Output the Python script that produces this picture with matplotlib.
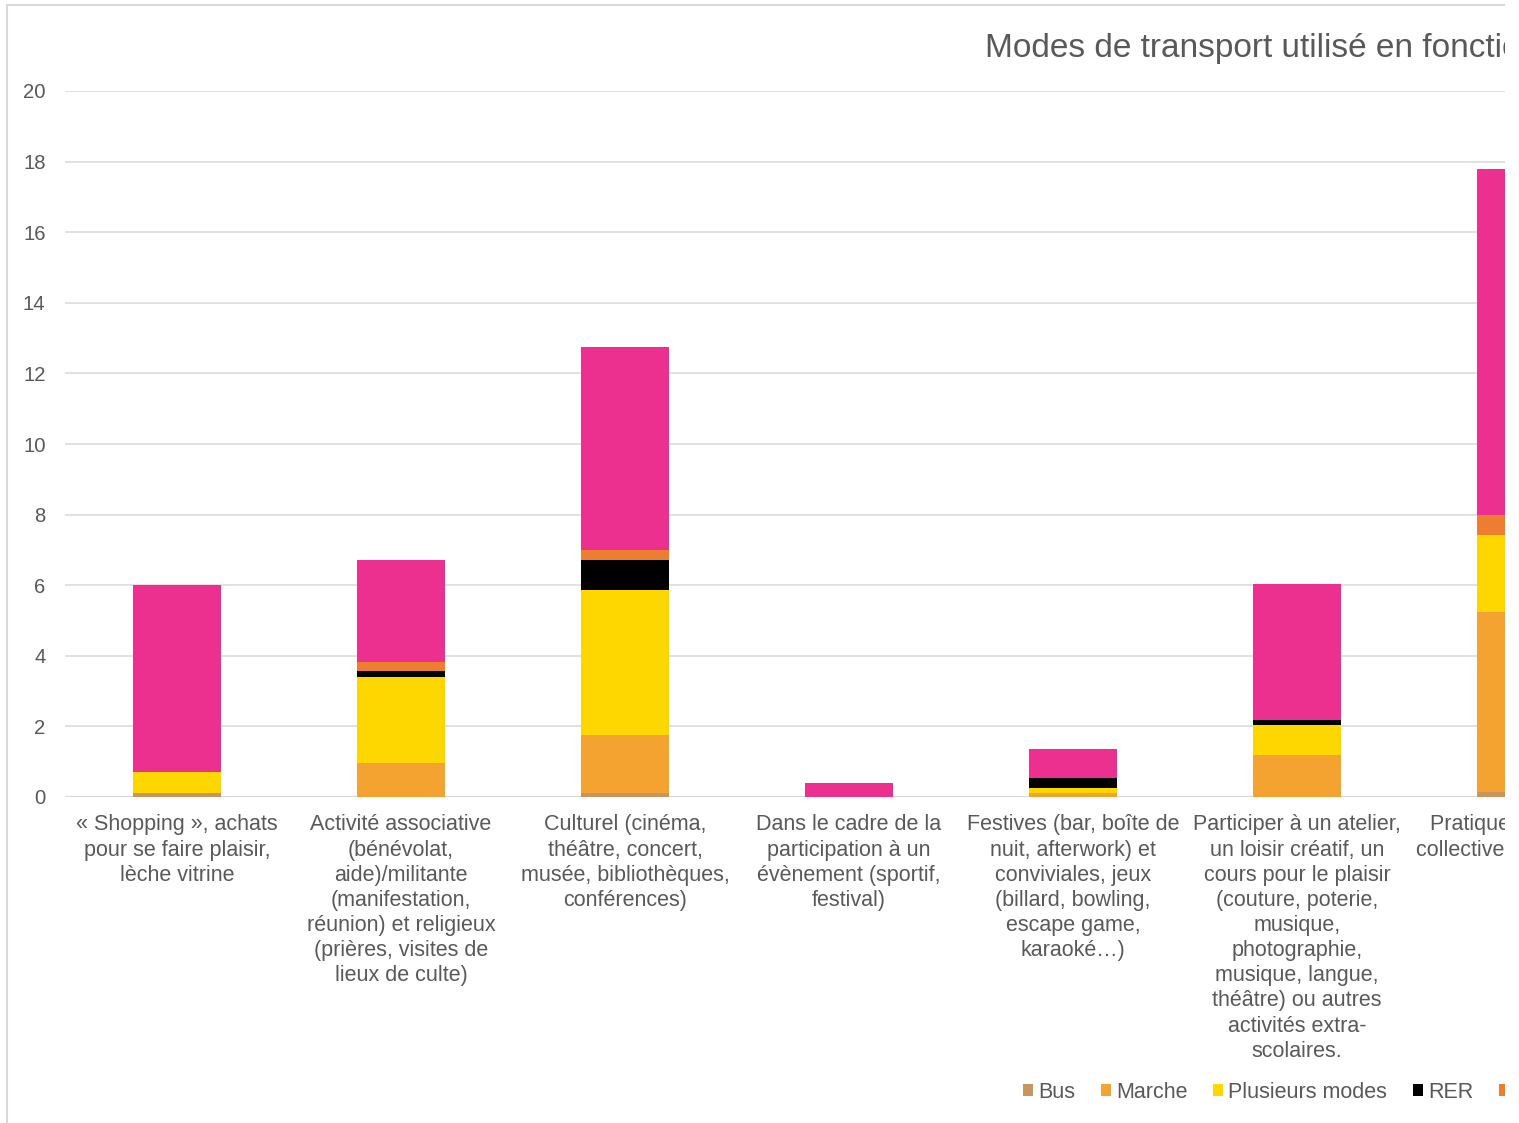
import numpy as np
import matplotlib
matplotlib.use("Agg")
import matplotlib.pyplot as plt
from matplotlib.lines import Line2D
from matplotlib.patches import Rectangle

plt.rcParams["font.family"] = ["Liberation Sans", "DejaVu Sans"]

# Data (right part of the chart is cut off)
categories = [
    "« Shopping », achats\npour se faire plaisir,\nlèche vitrine",
    "Activité associative\n(bénévolat,\naide)/militante\n(manifestation,\nréunion) et religieux\n(prières, visites de\nlieux de culte)",
    "Culturel (cinéma,\nthéâtre, concert,\nmusée, bibliothèques,\nconférences)",
    "Dans le cadre de la\nparticipation à un\névènement (sportif,\nfestival)",
    "Festives (bar, boîte de\nnuit, afterwork) et\nconviviales, jeux\n(billard, bowling,\nescape game,\nkaraoké…)",
    "Participer à un atelier,\nun loisir créatif, un\ncours pour le plaisir\n(couture, poterie,\nmusique,\nphotographie,\nmusique, langue,\nthéâtre) ou autres\nactivités extra-\nscolaires.",
    "Pratiques sportives\ncollectives (football…)",
]
series_names = ["Bus", "Marche", "Plusieurs modes", "RER", "Vélo", "Voiture"]
bus = [0.10, 0.00, 0.12, 0.00, 0.00, 0.00, 0.13]
marche = [0.00, 0.95, 1.65, 0.00, 0.10, 1.20, 5.10]
plusieurs = [0.60, 2.45, 4.10, 0.00, 0.15, 0.83, 2.20]
rer = [0.00, 0.17, 0.84, 0.00, 0.29, 0.15, 0.00]
velo = [0.00, 0.25, 0.28, 0.00, 0.00, 0.00, 0.55]
voiture = [5.30, 2.90, 5.77, 0.40, 0.81, 3.85, 9.80]
colors = ["#C9955F", "#F4A331", "#FFD700", "#000000", "#ED7D31", "#EC3090"]

W, H = 1519, 1123
fig = plt.figure(figsize=(W / 100, H / 100), dpi=100)

# the plot area runs past the right edge of the picture
n_slots = 12
slot_px = 224
ax = fig.add_axes([65 / W, 1 - 797 / H, slot_px * n_slots / W, (797 - 91) / H])

x = np.arange(len(categories))
bottom = np.zeros(len(categories))
handles = []
for name, vals, col in zip(series_names, [bus, marche, plusieurs, rer, velo, voiture], colors):
    vals = np.array(vals)
    b = ax.bar(x, vals, 0.39, bottom=bottom, color=col, label=name, zorder=3)
    handles.append(b)
    bottom += vals

ax.set_xlim(-0.5, n_slots - 0.5)
ax.set_ylim(0, 20)
ax.set_yticks(range(0, 21, 2))
ax.set_xticks(x)
ax.set_xticklabels(categories, fontsize=15.5, color="#595959", linespacing=1.26, va="top")
ax.tick_params(axis="x", length=0, pad=12.5)
ax.tick_params(axis="y", length=0, pad=14, labelsize=14.6, labelcolor="#595959")
ax.grid(axis="y", color="#D9D9D9", linewidth=1.1, zorder=0)
for s in ax.spines.values():
    s.set_visible(False)
ax.axhline(0, color="#D9D9D9", linewidth=1.5, zorder=2)

fig.text(985 / W, 1 - 57 / H, "Modes de transport utilisé en fonction du type d'activité",
         fontsize=24, color="#595959", ha="left", va="baseline")

fig.legend(handles=handles, labels=series_names, loc="center left",
           bbox_to_anchor=(1023 / W, 1 - 1092 / H), ncol=6, frameon=False,
           fontsize=15.5, labelcolor="#595959", handlelength=0.45, handleheight=0.45,
           handletextpad=0.25, columnspacing=1.2, borderpad=0, borderaxespad=0)

# chart border and the crop on the right side
fig.add_artist(Line2D([7 / W, 7 / W], [0, 1 - 5 / H], color="#D9D9D9", linewidth=1.5,
                      transform=fig.transFigure))
fig.add_artist(Line2D([7 / W, 1505 / W], [1 - 5 / H, 1 - 5 / H], color="#D9D9D9",
                      linewidth=1.5, transform=fig.transFigure))
fig.add_artist(Rectangle((1505 / W, 0), 1, 1, facecolor="white", edgecolor="none",
                         transform=fig.transFigure, zorder=10))

fig.savefig("out.png", dpi=100)
